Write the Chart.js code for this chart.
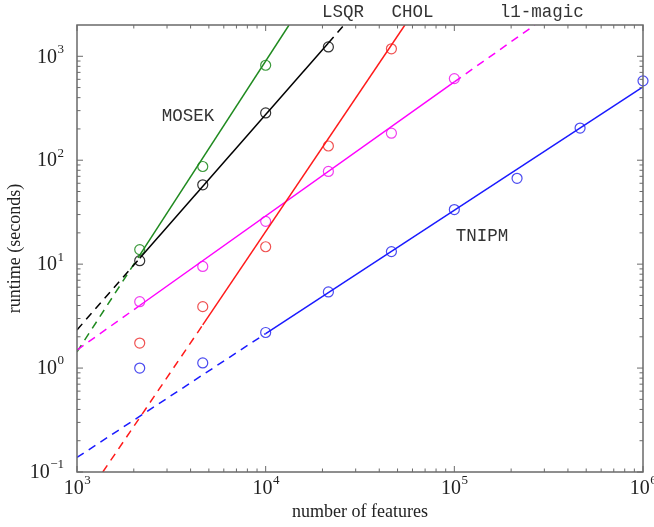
<!DOCTYPE html>
<html>
<head>
<meta charset="utf-8">
<script src="https://cdn.jsdelivr.net/npm/chart.js@4"></script>
<style>
    html, body { margin: 0; padding: 0; background: #fff; }
    #wrap { width: 654px; height: 527px; }
</style>
</head>
<body>
<div id="wrap"><canvas id="runtimeChart" width="654" height="527"></canvas></div>
<script>
// problem sizes (number of features)
const features = [2150, 4640, 10000, 21500, 46400, 100000, 215000, 464000, 1000000];

// measured runtimes (seconds)
const tnipmTimes   = [1.0, 1.12, 2.2, 5.4, 13.2, 33.5, 67, 204, 580];
const cholTimes    = [1.74, 3.9, 14.7, 137, 1180];
const l1magicTimes = [4.35, 9.5, 25.8, 78, 182, 610];
const lsqrTimes    = [10.8, 58, 285, 1230];
const mosekTimes   = [13.8, 87, 820];

// fitted lines: [x0, x1] / [y0, y1]
const tnipmDashX = [1000, 10000],  tnipmDashY = [0.138, 2.15];
const tnipmFitX  = [10000, 1000000], tnipmFitY = [2.15, 507];
const cholDashX  = [1370, 4640],   cholDashY  = [0.1, 2.6];
const cholFitX   = [4640, 54700],  cholFitY   = [2.6, 2000];
const l1DashX    = [1000, 2150],   l1DashY    = [1.49, 4.0];
const l1FitX     = [2150, 100000], l1FitY     = [4.0, 567];
const l1Dash2X   = [100000, 267000], l1Dash2Y = [567, 2000];
const lsqrDashX  = [1000, 2150],   lsqrDashY  = [2.33, 11.4];
const lsqrFitX   = [2150, 21500],  lsqrFitY   = [11.4, 1340];
const lsqrDash2X = [21500, 26000], lsqrDash2Y = [1340, 2000];
const mosekDashX = [1000, 2150],   mosekDashY = [1.43, 12.2];
const mosekFitX  = [2150, 13300],  mosekFitY  = [12.2, 2000];

// axis ticks (decades) and their exponents
const xDecades = [1000, 10000, 100000, 1000000];
const xExps    = ['3', '4', '5', '6'];
const yDecades = [0.1, 1, 10, 100, 1000];
const yExps    = ['\u22121', '0', '1', '2', '3'];

// method names and where they are written
const methodNames = ['MOSEK', 'LSQR', 'CHOL', 'l1-magic', 'TNIPM'];
const nameX = [3870, 25700, 60000, 291000, 140000];
const nameY = [266, null, null, null, 18.4];   // null = above the plot

const colors = {
    tnipm: '#1a1aff',
    chol: '#ff1a1a',
    l1: '#ff00ff',
    lsqr: '#000000',
    mosek: '#1f8a1f'
};

const pts = (xs, ys) => ys.map((y, i) => ({ x: xs[i], y: y }));

function lineSet(xs, ys, color, dashed) {
    return {
        data: pts(xs, ys),
        showLine: true,
        borderColor: color,
        borderWidth: 1.5,
        borderDash: dashed ? [8, 6] : [],
        pointRadius: 0,
        fill: false
    };
}

function markSet(ys, color) {
    return {
        data: pts(features, ys),
        showLine: false,
        pointStyle: 'circle',
        pointRadius: 5,
        pointBorderWidth: 1.2,
        pointBorderColor: color,
        pointBackgroundColor: 'rgba(0,0,0,0)',
        clip: false
    };
}

// frame, inside ticks, tick labels with superscripts, method names
const framePlugin = {
    id: 'frame',
    afterDraw(chart) {
        const ctx = chart.ctx;
        const a = chart.chartArea;
        const xs = chart.scales.x;
        const ys = chart.scales.y;

        ctx.save();
        ctx.strokeStyle = '#6a6a6a';
        ctx.lineWidth = 1.5;
        ctx.strokeRect(a.left, a.top, a.right - a.left, a.bottom - a.top);

        ctx.lineWidth = 1;
        // x ticks
        for (let d = 0; d < xDecades.length; d++) {
            for (let m = 1; m <= 9; m++) {
                const v = xDecades[d] * m;
                if (v > 1000000) break;
                const px = xs.getPixelForValue(v);
                const len = m === 1 ? 6 : 3.5;
                ctx.beginPath();
                ctx.moveTo(px, a.bottom); ctx.lineTo(px, a.bottom - len);
                ctx.moveTo(px, a.top); ctx.lineTo(px, a.top + len);
                ctx.stroke();
            }
        }
        // y ticks
        for (let d = 0; d < yDecades.length; d++) {
            for (let m = 1; m <= 9; m++) {
                const v = yDecades[d] * m;
                if (v >= 2000) break;
                const py = ys.getPixelForValue(v);
                const len = m === 1 ? 6 : 3.5;
                ctx.beginPath();
                ctx.moveTo(a.left, py); ctx.lineTo(a.left + len, py);
                ctx.moveTo(a.right, py); ctx.lineTo(a.right - len, py);
                ctx.stroke();
            }
        }

        // tick labels
        ctx.fillStyle = '#222';
        ctx.textBaseline = 'middle';
        const baseFont = '20px "Liberation Serif", serif';
        const expFont = '13px "Liberation Serif", serif';

        xDecades.forEach((v, i) => {
            ctx.font = baseFont;
            const wb = ctx.measureText('10').width;
            ctx.font = expFont;
            const we = ctx.measureText(xExps[i]).width;
            const px = xs.getPixelForValue(v);
            const x0 = px - (wb + we) / 2;
            ctx.textAlign = 'left';
            ctx.font = baseFont;
            ctx.fillText('10', x0, a.bottom + 17);
            ctx.font = expFont;
            ctx.fillText(xExps[i], x0 + wb + 0.5, a.bottom + 9);
        });

        yDecades.forEach((v, i) => {
            ctx.font = expFont;
            const we = ctx.measureText(yExps[i]).width;
            ctx.font = baseFont;
            const wb = ctx.measureText('10').width;
            const py = ys.getPixelForValue(v);
            const xr = a.left - 13;
            ctx.textAlign = 'left';
            ctx.font = baseFont;
            ctx.fillText('10', xr - we - wb - 0.5, py + 1);
            ctx.font = expFont;
            ctx.fillText(yExps[i], xr - we, py - 7);
        });

        // method names
        ctx.font = '17.5px "Liberation Mono", "DejaVu Sans Mono", monospace';
        ctx.fillStyle = '#333';
        ctx.textAlign = 'center';
        methodNames.forEach((name, i) => {
            const px = xs.getPixelForValue(nameX[i]);
            const py = nameY[i] === null ? a.top - 13 : ys.getPixelForValue(nameY[i]);
            ctx.fillText(name, px, py);
        });
        ctx.restore();
    }
};

const ctx = document.getElementById('runtimeChart');

new Chart(ctx, {
    type: 'scatter',
    data: {
        datasets: [
            lineSet(tnipmDashX, tnipmDashY, colors.tnipm, true),
            lineSet(tnipmFitX, tnipmFitY, colors.tnipm, false),
            lineSet(cholDashX, cholDashY, colors.chol, true),
            lineSet(cholFitX, cholFitY, colors.chol, false),
            lineSet(l1DashX, l1DashY, colors.l1, true),
            lineSet(l1FitX, l1FitY, colors.l1, false),
            lineSet(l1Dash2X, l1Dash2Y, colors.l1, true),
            lineSet(lsqrDashX, lsqrDashY, colors.lsqr, true),
            lineSet(lsqrFitX, lsqrFitY, colors.lsqr, false),
            lineSet(lsqrDash2X, lsqrDash2Y, colors.lsqr, true),
            lineSet(mosekDashX, mosekDashY, colors.mosek, true),
            lineSet(mosekFitX, mosekFitY, colors.mosek, false),
            markSet(tnipmTimes, '#4b4bf0'),
            markSet(cholTimes, '#f05252'),
            markSet(l1magicTimes, '#f040f0'),
            markSet(lsqrTimes, '#333333'),
            markSet(mosekTimes, '#3c9a3c')
        ]
    },
    options: {
        responsive: false,
        animation: false,
        layout: {
            padding: { left: 0, top: 25, right: 11, bottom: 0 }
        },
        plugins: {
            legend: { display: false },
            tooltip: { enabled: false }
        },
        scales: {
            x: {
                type: 'logarithmic',
                min: 1000,
                max: 1000000,
                grid: { display: false },
                border: { display: false },
                ticks: { display: false },
                title: {
                    display: true,
                    text: 'number of features',
                    color: '#222',
                    font: { family: '"Liberation Serif", serif', size: 18 }
                },
                afterFit(scale) { scale.height = 55; }
            },
            y: {
                type: 'logarithmic',
                min: 0.1,
                max: 2000,
                grid: { display: false },
                border: { display: false },
                ticks: { display: false },
                title: {
                    display: true,
                    text: 'runtime (seconds)',
                    color: '#222',
                    font: { family: '"Liberation Serif", serif', size: 18 }
                },
                afterFit(scale) { scale.width = 77; }
            }
        }
    },
    plugins: [framePlugin]
});
</script>
</body>
</html>
